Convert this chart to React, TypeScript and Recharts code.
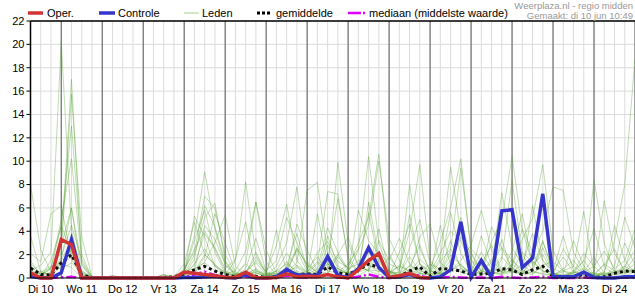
import React from 'react';
import { LineChart, Line, XAxis, YAxis, CartesianGrid } from 'recharts';

// 6-hourly steps: step 0 = Di 10 06:00, last step = Wo 25 00:00
const dayLabels = ['Di 10', 'Wo 11', 'Do 12', 'Vr 13', 'Za 14', 'Zo 15', 'Ma 16', 'Di 17', 'Wo 18', 'Do 19', 'Vr 20', 'Za 21', 'Zo 22', 'Ma 23', 'Di 24'];
const labelSteps = dayLabels.map((_, k) => 1 + 4 * k); // 12:00 of each day
const midnightSteps = dayLabels.map((_, k) => 3 + 4 * k);
const yTicks = [0, 2, 4, 6, 8, 10, 12, 14, 16, 18, 20, 22];

// Oper. (operational run, stops after Do 19)
const oper = [0.45, 0, 0,
  3.3, 2.85, 0, 0, 0, 0, 0, 0, 0, 0, 0, 0,
  0.5, 0.4, 0.3, 0.2, 0.05, 0.05, 0.5, 0.05, 0, 0.05, 0.35, 0.1, 0.15, 0.1, 0.3, 0.1,
  0, 0.7, 1.5, 2.1, 0.05, 0.2, 0.4, 0.05, 0,
  null, null, null, null, null, null, null, null, null, null,
  null, null, null, null, null, null, null, null, null, null];

const controle = [0.15, 0, 0,
  0.45, 3.3, 0, 0, 0, 0, 0, 0, 0, 0, 0, 0,
  0.05, 0.05, 0.1, 0.15, 0.05, 0, 0.3, 0, 0, 0.1, 0.75, 0.25, 0.25, 0.2, 1.85, 0.2,
  0.05, 0.8, 2.6, 0.9, 0.05, 0.1, 0.3, 0.05, 0, 0.1, 0.7, 4.8,
  0.05, 1.5, 0.05, 5.75, 5.85, 0.9, 1.7, 7.2, 0.1, 0.1, 0.1, 0.5,
  0.05, 0, 0, 0.1, 0.1];

const gemiddelde = [0.85, 0.3, 0.25,
  1.3, 2.0, 0.25, 0.05, 0.02, 0.05, 0.03, 0.02, 0.02, 0.03, 0.05, 0.1,
  0.35, 0.7, 1.0, 0.6, 0.3, 0.1, 0.35, 0.15, 0.05, 0.1, 0.5, 0.3, 0.35, 0.3, 0.95, 0.45,
  0.3, 0.7, 1.2, 0.9, 0.1, 0.15, 0.6, 0.95, 0.15, 0.8, 0.75, 0.6,
  0.3, 0.35, 0.4, 0.8, 0.7, 0.3, 0.7, 1.0, 0.1, 0.05, 0.1, 0.3,
  0.05, 0.1, 0.4, 0.6, 0.55];

const mediaan = [0.2, 0.05, 0,
  0.05, 0.1, 0, 0, 0, 0, 0, 0, 0, 0, 0, 0,
  0.05, 0.3, 0.55, 0.25, 0.05, 0, 0.15, 0, 0, 0, 0.2, 0.05, 0.05, 0.1, 0.3, 0.05,
  0, 0.1, 0.3, 0.1, 0, 0.05, 0.3, 0.2, 0, 0.05, 0.1, 0.05,
  0, 0.05, 0, 0.1, 0.05, 0, 0.05, 0.1, 0, 0, 0, 0.05,
  0, 0, 0.05, 0.05, 0.05];

// Leden (ensemble members)
const leden01 = [8, 2.4, 0.5, 1.2, 0.9, 0, 0, 0, 0, 0, 0, 0, 0, 0, 0.1, 0.6, 3.6, 9.1, 4.2, 1.1, 0.2, 0.6, 1.3, 0.3, 0.6, 2.1, 1, 0.4, 2.2, 3.1, 1.4, 0.9, 3, 5.2, 10.6, 2.1, 0.4, 1, 2.8, 0.5, 2.1, 4, 3.2, 1, 0.4, 3.1, 5, 10.4, 4.1, 1.2, 2, 0.4, 0.2, 0.6, 1.5, 0.3, 0.5, 3.2, 8, 18.8];
const leden02 = [0.6, 1.1, 2.2, 20.2, 4.1, 0.3, 0, 0, 0, 0.1, 0, 0, 0, 0, 0, 0.2, 1.2, 2.5, 1, 0.3, 1.5, 8.2, 2, 0.4, 0.1, 0.8, 2.6, 1.1, 0.5, 0.3, 2, 3.5, 1, 0.6, 2.2, 1.2, 0.8, 4, 9.7, 1.5, 0.4, 2, 1.1, 0.3, 1.2, 2.8, 0.6, 1, 3.3, 5.1, 9.7, 2.4, 0.6, 0.2, 0.5, 1.8, 0.4, 0.1, 0.6, 1.2];
const leden03 = [3.6, 0.5, 0.3, 3, 17, 1.2, 0, 0, 0, 0, 0, 0, 0, 0, 0, 0.3, 2, 5.2, 6.4, 1.5, 0.3, 0.5, 0.4, 0.2, 1, 3, 7.8, 1.4, 0.5, 1.2, 0.8, 0.4, 0.6, 2.2, 1.5, 0.3, 1.1, 0.5, 1.6, 0.8, 3.1, 6, 10.2, 2.2, 0.6, 1.3, 2.6, 1.5, 0.7, 0.4, 1, 0.3, 2.5, 1, 0.4, 8.4, 3, 0.5, 1, 2.4];
const leden04 = [1.5, 0.2, 0.8, 2.2, 15.7, 3.5, 0.1, 0, 0, 0, 0, 0, 0, 0.3, 0, 0.1, 0.5, 1.4, 3, 5.4, 1, 0.2, 0.6, 0.3, 0.2, 0.5, 1.3, 7.5, 8.2, 2.1, 0.5, 1.2, 2.5, 10.4, 3, 0.6, 0.2, 1.1, 0.4, 0.3, 1.4, 2.5, 1, 0.5, 2.2, 0.8, 7.3, 2.6, 1.1, 0.5, 3.2, 0.4, 0.1, 0.5, 2.1, 1, 0.2, 0.4, 3, 1.1];
const leden05 = [0.3, 0.1, 1.5, 4.4, 13, 2, 0, 0, 0, 0, 0, 0, 0, 0, 0, 0.4, 1.1, 3.8, 2.5, 0.6, 0.3, 1.3, 6.5, 2.4, 0.4, 0.3, 1.1, 0.5, 1.4, 0.6, 9.9, 3, 1, 0.6, 0.3, 0.2, 2.2, 4.6, 1.2, 0.5, 1.6, 9.5, 4, 1.5, 0.3, 0.6, 1.8, 0.8, 0.3, 2.1, 4, 7.8, 7.5, 2.2, 0.6, 0.3, 1.1, 2.5, 0.4, 0.8];
const leden06 = [2.1, 1.4, 5.5, 6.2, 1.6, 0.2, 0, 0, 0.2, 0, 0, 0, 0, 0, 0, 0.8, 2.2, 7, 6, 2, 0.4, 0.2, 0.5, 0.1, 0.6, 1.2, 0.6, 0.3, 0.8, 4.3, 2.2, 0.7, 1.5, 1.1, 0.5, 1.8, 0.6, 8, 2.5, 0.6, 0.3, 1.2, 3.5, 2.1, 0.5, 0.2, 1.6, 8.4, 2, 0.6, 0.3, 0.2, 0.8, 1.5, 0.4, 0.3, 1.2, 0.6, 0.2, 0.5];
const leden07 = [1, 0.3, 0.8, 4.5, 2.1, 0.1, 0, 0, 0, 0, 0, 0, 0, 0.2, 0.1, 1.2, 4.8, 2, 1.1, 0.4, 0.6, 2.3, 6.5, 1.4, 0.2, 0.5, 2.5, 1.2, 0.4, 3.6, 1, 0.5, 2.4, 4.5, 10, 3.4, 1.5, 0.4, 0.7, 0.2, 0.5, 2.4, 9.4, 2.5, 1.5, 0.5, 0.4, 1.1, 4.2, 2.2, 0.6, 0.3, 0.2, 0.2, 0.5, 1, 2.3, 0.8, 1.5, 4.2];
const leden08 = [0.2, 0, 0.4, 1.5, 3.2, 0.6, 0, 0, 0, 0, 0, 0, 0, 0, 0, 0.5, 3.2, 5.8, 2.2, 0.4, 0.1, 0.8, 3.4, 0.6, 1.5, 5.2, 3, 0.8, 0.3, 1.5, 6.8, 1.8, 0.5, 0.8, 4.2, 0.6, 0.2, 2.6, 5, 1.2, 0.8, 5.6, 2.1, 0.5, 3.6, 1.1, 0.5, 2.3, 5.5, 1, 3.1, 0.8, 0.4, 3.2, 1, 0.2, 0.1, 1, 5.2, 2.6];
const leden09 = [0.4, 0.6, 0.2, 2.8, 6, 1.1, 0, 0, 0, 0, 0, 0, 0, 0, 0, 0.3, 0.6, 4.5, 3.3, 1.2, 0.3, 0.4, 1.5, 0.5, 2.8, 6.3, 1.5, 0.4, 1.2, 7.4, 7.2, 1.5, 0.4, 6.5, 1.8, 0.5, 1, 0.6, 3.5, 4.6, 1.3, 0.6, 1.5, 2.8, 5.8, 2.4, 0.4, 0.6, 2.2, 1.4, 0.5, 0.6, 3.6, 0.6, 0.3, 0.5, 6.6, 2.1, 0.6, 1.8];
const leden10 = [0.8, 0.1, 0.2, 1, 2.4, 0.5, 0, 0, 0, 0, 0, 0, 0, 0, 0, 0.1, 0.4, 1.8, 5.5, 3, 0.5, 0.3, 2.2, 0.5, 0.3, 1.4, 0.4, 0.3, 5.5, 1.2, 0.6, 0.4, 5.8, 3.2, 2.1, 0.6, 0.4, 1.8, 0.6, 0.3, 4.5, 1.1, 0.5, 0.7, 0.3, 4.4, 2.5, 0.9, 0.4, 0.8, 2.6, 0.3, 0.6, 0.4, 1.5, 4.2, 1, 0.3, 0.5, 0.6];
const leden11 = [0.2, 0.5, 1, 0.8, 1.3, 0.4, 0, 0, 0, 0, 0, 0, 0, 0, 0, 0.4, 5.3, 3.5, 1, 0.5, 0.2, 1.2, 0.4, 0.2, 0.6, 0.5, 4.6, 2.4, 0.6, 0.4, 1.8, 0.8, 1.2, 0.6, 3.2, 1.5, 3.4, 1.2, 0.4, 1.2, 0.3, 0.8, 5.2, 1.6, 0.6, 0.5, 3.3, 0.5, 1.2, 3.8, 1.5, 0.4, 0.3, 0.4, 0.8, 0.3, 0.4, 4.5, 1.5, 0.4];
const leden12 = [1.2, 0.4, 0.3, 1.8, 4.5, 1.6, 0.1, 0, 0, 0, 0, 0, 0, 0, 0, 0.2, 1.6, 6.2, 4.4, 1.4, 0.2, 0.3, 0.8, 0.3, 4.1, 0.5, 2.4, 0.5, 0.2, 2.8, 0.8, 0.4, 0.5, 1.4, 2.2, 0.4, 0.5, 5.4, 1.2, 0.6, 0.4, 1.5, 0.5, 0.3, 1.1, 0.6, 0.3, 1.2, 0.5, 6.2, 1.5, 0.6, 1.8, 0.5, 0.2, 0.2, 0.3, 0.5, 0.8, 3.6];
const leden13 = [0.6, 0.3, 0.9, 5, 10.2, 1.4, 0, 0, 0, 0, 0, 0, 0, 0, 0, 0.6, 2.5, 4, 2.6, 0.8, 1.6, 4.8, 0.6, 0.2, 0.2, 1, 3.8, 0.8, 1.8, 0.6, 0.4, 0.5, 0.7, 5.6, 1.3, 0.5, 0.3, 0.4, 1.2, 0.3, 0.6, 3.2, 0.8, 0.5, 0.4, 1.6, 0.5, 1.6, 0.4, 0.3, 1.1, 1.4, 0.6, 1, 5.7, 0.4, 0.2, 0.3, 1, 0.5];
const leden14 = [0.1, 0, 0.2, 1.6, 6, 0.3, 0, 0, 0.2, 0, 0, 0, 0, 0, 0.2, 0.5, 0.8, 1.3, 0.6, 0.4, 0.3, 0.5, 1.8, 0.4, 0.3, 0.6, 0.9, 0.3, 0.5, 0.9, 2, 0.5, 0.2, 0.7, 0.6, 0.4, 0.2, 0.5, 0.3, 0.4, 0.3, 0.6, 1.2, 0.3, 0.2, 0.8, 0.5, 0.6, 0.3, 0.5, 0.4, 0.2, 0.1, 0.5, 0.3, 0.2, 0.4, 0.6, 0.5, 0.8];
const leden15 = [0.3, 0.2, 0.5, 1.2, 1.8, 0.6, 0.1, 0, 0, 0, 0, 0, 0, 0.3, 0, 0.3, 0.6, 2, 1.2, 0.4, 0.2, 0.4, 0.7, 0.2, 0.4, 0.6, 0.5, 0.2, 0.4, 1.2, 0.8, 0.3, 0.8, 1.1, 0.7, 0.3, 0.2, 0.6, 0.4, 0.2, 0.4, 0.5, 0.8, 0.3, 0.6, 0.4, 0.3, 0.5, 0.4, 1.5, 0.6, 0.3, 0.2, 0.3, 0.4, 0.2, 0.3, 0.5, 0.4, 0.6];
const leden = [leden01, leden02, leden03, leden04, leden05, leden06, leden07, leden08, leden09, leden10, leden11, leden12, leden13, leden14, leden15];

const data = controle.map((_, i) => {
  const row: Record<string, number | null> = {
    step: i,
    oper: oper[i],
    controle: controle[i],
    gemiddelde: gemiddelde[i],
    mediaan: mediaan[i],
  };
  leden.forEach((m, k) => { row[`lid${k}`] = m[i]; });
  return row;
});

const allSteps = controle.map((_, i) => i);
const FONT = '"Liberation Sans", Arial, sans-serif';

const gridAt = (steps: number[]) => ({ xAxis, offset }: any) => {
  if (xAxis && typeof xAxis.scale === 'function') return steps.map((s) => xAxis.scale(s));
  return steps.map((s) => offset.left + (s / 59) * offset.width);
};

const DayTick = (props: any) => {
  const { x, y, payload } = props;
  const k = labelSteps.indexOf(payload.value);
  if (k < 0) return null;
  return (
    <text x={x} y={y} dy="0.71em" textAnchor="middle" fontSize={11} fontFamily={FONT} fill="#000">
      {dayLabels[k]}
    </text>
  );
};

const Header = () => (
  <svg width={635} height={21} style={{ position: 'absolute', left: 0, top: 0 }}>
    <g fontFamily={FONT} fontSize={11} fill="#000">
      <line x1={28} x2={43} y1={13} y2={13} stroke="#d03434" strokeWidth={3.5} />
      <text x={47} y={17}>Oper.</text>
      <line x1={99} x2={115} y1={13} y2={13} stroke="#3535cc" strokeWidth={3.5} />
      <text x={118} y={17}>Controle</text>
      <line x1={184} x2={199} y1={13} y2={13} stroke="#c2dfb2" strokeWidth={1.5} />
      <text x={202} y={17}>Leden</text>
      <line x1={257} x2={272} y1={13} y2={13} stroke="#000" strokeWidth={3} strokeDasharray="3 2" />
      <text x={276} y={17}>gemiddelde</text>
      <line x1={348} x2={366} y1={13} y2={13} stroke="#dd00ff" strokeWidth={2.5} strokeDasharray="13 2 2 3" />
      <text x={369} y={17}>mediaan (middelste waarde)</text>
    </g>
    <g fontFamily={FONT} fontSize={9.5} fill="#999" textAnchor="end">
      <text x={633} y={8.5}>Weerplaza.nl - regio midden</text>
      <text x={633} y={18.5}>Gemaakt: di 10 jun 10:49</text>
    </g>
  </svg>
);

export default function App() {
  return (
    <div style={{ position: 'absolute', left: 0, top: 0, width: 635, height: 300, background: '#fff', fontFamily: FONT }}>
      <LineChart width={635} height={300} data={data} margin={{ top: 21, right: 0, bottom: 0, left: 0 }}>
        <CartesianGrid horizontal={true} vertical={false} stroke="#dcdcdc" />
        <CartesianGrid horizontal={false} verticalCoordinatesGenerator={gridAt(allSteps)} stroke="#dcdcdc" />
        <CartesianGrid horizontal={false} verticalCoordinatesGenerator={gridAt(midnightSteps)} stroke="#5a5a5a" />
        <XAxis
          dataKey="step"
          type="number"
          domain={[0, 59]}
          ticks={labelSteps}
          interval={0}
          height={22}
          tickLine={false}
          tickSize={0}
          tickMargin={7}
          tick={<DayTick />}
          axisLine={{ stroke: '#000' }}
        />
        <XAxis
          xAxisId="top"
          dataKey="step"
          type="number"
          domain={[0, 59]}
          orientation="top"
          mirror
          ticks={allSteps}
          interval={0}
          tick={false}
          tickSize={4}
          tickLine={{ stroke: '#444' }}
          axisLine={{ stroke: '#000', strokeWidth: 1.5 }}
        />
        <YAxis
          width={30.5}
          domain={[0, 22]}
          ticks={yTicks}
          interval={0}
          tickSize={4}
          tickMargin={2}
          tickLine={{ stroke: '#000' }}
          axisLine={{ stroke: '#000', strokeWidth: 1.5 }}
          tick={{ fontSize: 11, fill: '#000', fontFamily: FONT }}
        />
        {leden.map((_, k) => (
          <Line
            key={k}
            dataKey={`lid${k}`}
            type="linear"
            stroke="#4f9f2a"
            strokeOpacity={0.36}
            strokeWidth={1}
            dot={false}
            isAnimationActive={false}
          />
        ))}
        <Line dataKey="mediaan" type="linear" stroke="#dd00ff" strokeWidth={2.5} strokeDasharray="10 3 2 3" dot={false} isAnimationActive={false} />
        <Line dataKey="gemiddelde" type="linear" stroke="#111" strokeWidth={3} strokeDasharray="3 3" dot={false} isAnimationActive={false} />
        <Line dataKey="controle" type="linear" stroke="#3535cc" strokeWidth={3.5} dot={false} isAnimationActive={false} />
        <Line dataKey="oper" type="linear" stroke="#d03434" strokeWidth={3.5} dot={false} isAnimationActive={false} />
      </LineChart>
      <Header />
    </div>
  );
}
